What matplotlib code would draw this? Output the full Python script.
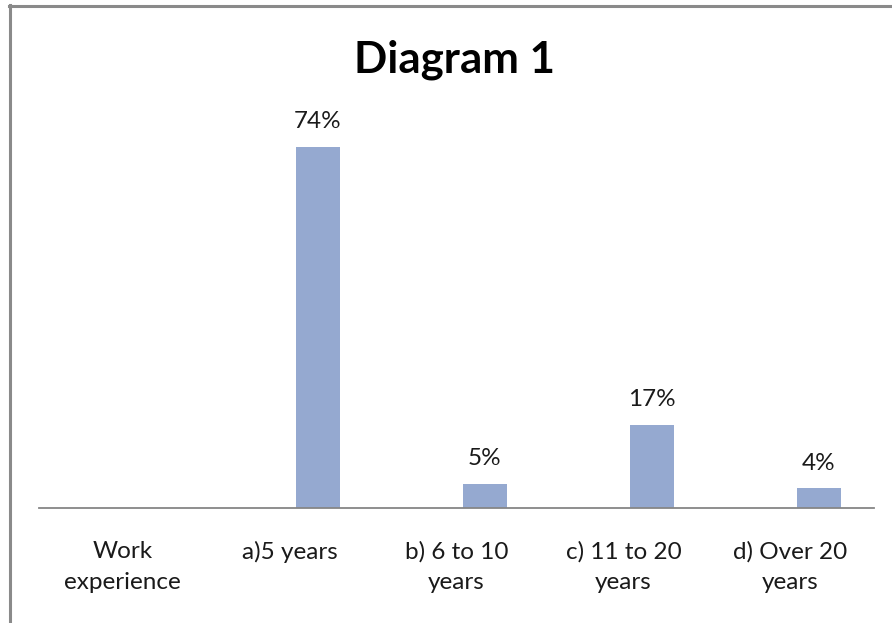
import numpy as np
import matplotlib
matplotlib.use("Agg")
import matplotlib.pyplot as plt
from matplotlib.lines import Line2D

# Survey data: share of respondents by work experience
categories = ["Work\nexperience", "a)5 years", "b) 6 to 10\nyears",
              "c) 11 to 20\nyears", "d) Over 20\nyears"]
values = [np.nan, 74, 5, 17, 4]
value_labels = ["", "74%", "5%", "17%", "4%"]
title = "Diagram 1"

W, H, DPI = 892, 623, 100
plt.rcParams['font.family'] = ['Lato', 'DejaVu Sans']

fig = plt.figure(figsize=(W / DPI, H / DPI), dpi=DPI)
fig.patch.set_facecolor("white")

# Chart frame (top and left edges visible)
border = "#8a8a8a"
fig.add_artist(Line2D([8.5 / W, 1.0], [1 - 6 / H, 1 - 6 / H], color=border, lw=2.2,
                      transform=fig.transFigure))
fig.add_artist(Line2D([9.5 / W, 9.5 / W], [0, 1 - 5 / H], color=border, lw=2.2,
                      transform=fig.transFigure))

left, right = 39 / W, 874 / W
bottom = 1 - 508 / H
top = 1 - 117.8 / H
ax = fig.add_axes([left, bottom, right - left, top - bottom])

x = np.arange(len(categories))
offset = 0.17
width = 0.265
bar_color = "#95A9D0"
ax.bar(x + offset, values, width=width, color=bar_color)

for xi, v, lab in zip(x, values, value_labels):
    if np.isnan(v):
        continue
    ax.annotate(lab, (xi + offset, v), xytext=(0, 13.5), textcoords="offset points",
                ha="center", va="baseline", fontsize=17.5, color="#1a1a1a")

ax.set_xlim(-0.5, len(categories) - 0.5)
ax.set_ylim(0, 80)
ax.set_xticks(x)
ax.set_xticklabels(categories, fontsize=17.5, color="#1a1a1a", linespacing=1.55)
ax.tick_params(axis="x", length=0, pad=24)
ax.set_yticks([])
for s in ["left", "right", "top"]:
    ax.spines[s].set_visible(False)
ax.spines["bottom"].set_color("#868686")
ax.spines["bottom"].set_linewidth(1.3)
ax.patch.set_alpha(0)

fig.text(455 / W, 1 - 73 / H, title, ha="center", va="baseline",
         fontsize=31.5, fontweight="bold", color="black")

fig.savefig("out.png", dpi=DPI)
